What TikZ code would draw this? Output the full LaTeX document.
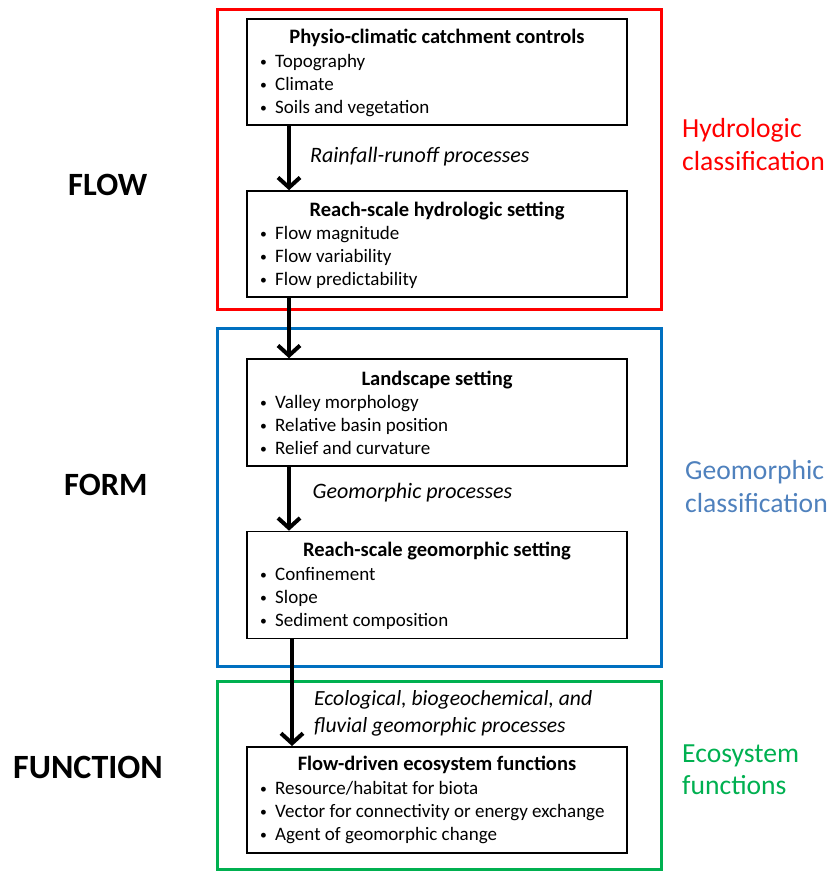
\documentclass[tikz,border=0pt]{standalone}
\usepackage{fontspec}
\setmainfont{Carlito}
\usetikzlibrary{arrows.meta}
\definecolor{hred}{HTML}{FF0000}
\definecolor{gblue}{HTML}{0070C0}
\definecolor{gtext}{HTML}{4F81BD}
\definecolor{egreen}{HTML}{00B050}
\begin{document}
\begin{tikzpicture}[x=1pt,y=-1pt,
  outer/.style={line width=3pt},
  inbox/.style={draw=black,line width=1.6pt},
  ttl/.style={anchor=base,inner sep=0pt,font=\bfseries\fontsize{20.5}{24}\selectfont},
  itm/.style={anchor=base west,inner sep=0pt,font=\fontsize{19}{23}\selectfont},
  proc/.style={anchor=base west,inner sep=0pt,font=\itshape\fontsize{22}{26}\selectfont},
  big/.style={anchor=base west,inner sep=0pt,font=\bfseries\fontsize{32.5}{36}\selectfont},
  side/.style={anchor=base west,inner sep=0pt,font=\fontsize{27.6}{32}\selectfont},
  flowarrow/.style={line width=4pt,-{Straight Barb[length=10pt,width=22pt]}}]
\useasboundingbox (0,0) rectangle (831,871);
\newcommand\bul[1]{\makebox[16pt][l]{\hspace{1pt}\raisebox{0.9pt}{\scalebox{0.72}{\textbullet}}}#1}
% outer coloured frames
\draw[outer,hred] (217.5,9.5) rectangle (661,309.5);
\draw[outer,gblue] (217.5,328.5) rectangle (661,666.5);
\draw[outer,egreen] (217.5,681.5) rectangle (661,869);
% inner boxes
\node[inbox,minimum width=380pt,minimum height=106pt,inner sep=0pt] (b1) at (436.8,72) {};
\node[inbox,minimum width=380pt,minimum height=106pt,inner sep=0pt] (b2) at (436.8,244) {};
\node[inbox,minimum width=380pt,minimum height=107pt,inner sep=0pt] (b3) at (436.8,412.5) {};
\node[inbox,minimum width=380pt,minimum height=107pt,inner sep=0pt] (b4) at (436.8,585) {};
\node[inbox,minimum width=380pt,minimum height=106pt,inner sep=0pt] (b5) at (436.8,799.8) {};
% box 1
\node[ttl] (t1) at (437,43.3) {Physio-climatic catchment controls};
\node[itm] (i11) at (259,67) {\bul{Topography}};
\node[itm] (i12) at (259,90) {\bul{Climate}};
\node[itm] (i13) at (259,113) {\bul{Soils and vegetation}};
% box 2
\node[ttl] (t2) at (437,216) {Reach-scale hydrologic setting};
\node[itm] (i21) at (259,239.3) {\bul{Flow magnitude}};
\node[itm] (i22) at (259,262.6) {\bul{Flow variability}};
\node[itm] (i23) at (259,285.5) {\bul{Flow predictability}};
% box 3
\node[ttl] (t3) at (437,385) {Landscape setting};
\node[itm] (i31) at (259,408.3) {\bul{Valley morphology}};
\node[itm] (i32) at (259,431.6) {\bul{Relative basin position}};
\node[itm] (i33) at (259,454.3) {\bul{Relief and curvature}};
% box 4
\node[ttl] (t4) at (437,556.7) {Reach-scale geomorphic setting};
\node[itm] (i41) at (259,580) {\bul{Confinement}};
\node[itm] (i42) at (259,603.3) {\bul{Slope}};
\node[itm] (i43) at (259,626) {\bul{Sediment composition}};
% box 5
\node[ttl] (t5) at (437,770.7) {Flow-driven ecosystem functions};
\node[itm] (i51) at (259,794) {\bul{Resource/habitat for biota}};
\node[itm] (i52) at (259,817.3) {\bul{Vector for connectivity or energy exchange}};
\node[itm] (i53) at (259,840) {\bul{Agent of geomorphic change}};
% arrows
\draw[flowarrow] (b1.south -| 289,0) -- (b2.north -| 289,0);
\draw[flowarrow] (b2.south -| 289,0) -- (b3.north -| 289,0);
\draw[flowarrow] (b3.south -| 289,0) -- (b4.north -| 289,0);
\draw[flowarrow] (b4.south -| 292,0) -- (b5.north -| 292,0);
% process labels
\node[proc] (p1) at (310,162.7) {Rainfall-runoff processes};
\node[proc] (p2) at (312.5,498.3) {Geomorphic processes};
\node[proc] (p3a) at (314,705) {\fontsize{21.6}{26}\selectfont Ecological, biogeochemical, and};
\node[proc] (p3b) at (314,732.5) {\fontsize{21.6}{26}\selectfont fluvial geomorphic processes};
% left labels
\node[big] (flow) at (68,195) {FLOW};
\node[big] (form) at (64,495) {FORM};
\node[big] (func) at (13,778) {\fontsize{34}{38}\selectfont FUNCTION};
% right labels
\node[side,text=hred] (h1) at (682,137.3) {Hydrologic};
\node[side,text=hred] (h2) at (682,170.7) {classification};
\node[side,text=gtext] (g1) at (685,479.3) {Geomorphic};
\node[side,text=gtext] (g2) at (685,512.7) {classification};
\node[side,text=egreen] (e1) at (682,762.7) {Ecosystem};
\node[side,text=egreen] (e2) at (682,794.5) {functions};
\end{tikzpicture}
\end{document}
